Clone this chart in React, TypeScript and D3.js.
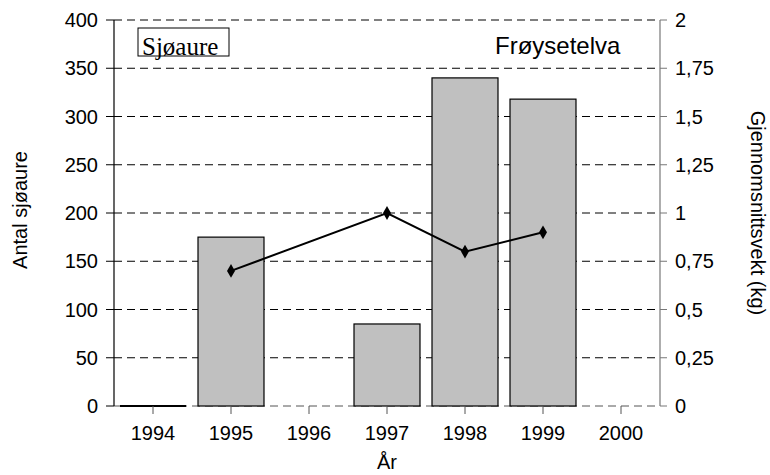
import React from "react";
import * as d3 from "d3";

const years = ["1994", "1995", "1996", "1997", "1998", "1999", "2000"];
const counts: (number | null)[] = [0, 175, null, 85, 340, 318, null];
const weights: (number | null)[] = [null, 0.7, null, 1.0, 0.8, 0.9, null];
const leftTicks = [0, 50, 100, 150, 200, 250, 300, 350, 400];
const rightTicks = [0, 0.25, 0.5, 0.75, 1, 1.25, 1.5, 1.75, 2];
const rightTickLabels = ["0", "0,25", "0,5", "0,75", "1", "1,25", "1,5", "1,75", "2"];

const W = 770, H = 475;
const L = 114, R = 660, T = 20, B = 406;
const sans = "'Liberation Sans', Arial, sans-serif";
const serif = "'Liberation Serif', 'Times New Roman', serif";

export default function App() {
  const x = d3.scaleBand<string>().domain(years).range([L, R]).paddingInner(0.154).paddingOuter(0.077);
  const xc = (y: string) => (x(y) as number) + x.bandwidth() / 2;
  const yL = d3.scaleLinear().domain([0, 400]).range([B, T]);
  const yR = d3.scaleLinear().domain([0, 2]).range([B, T]);
  const pts = years
    .map((y, i) => ({ y, v: weights[i] }))
    .filter((d) => d.v !== null) as { y: string; v: number }[];
  const line = d3.line<{ y: string; v: number }>().x((d) => xc(d.y)).y((d) => yR(d.v));
  const diamond = d3.symbol().type(d3.symbolDiamond).size(55)();
  const fs = 20;
  return (
    <svg width={W} height={H} style={{ position: "absolute", left: 0, top: 0, background: "#fff" }}>
      {/* gridlines */}
      {leftTicks.map((t) => (
        <line key={"g" + t} x1={L} x2={R} y1={yL(t)} y2={yL(t)} stroke={t === 0 ? "#555" : "#000"} strokeWidth={1} strokeDasharray="8,5" />
      ))}
      {/* bars */}
      {years.map((y, i) => {
        const v = counts[i];
        if (v === null) return null;
        if (v === 0)
          return <line key={"b" + y} x1={x(y)} x2={(x(y) as number) + x.bandwidth()} y1={yL(0)} y2={yL(0)} stroke="#000" strokeWidth={2} />;
        return (
          <rect key={"b" + y} x={x(y)} y={yL(v)} width={x.bandwidth()} height={B - yL(v)}
            fill="#c0c0c0" stroke="#000" strokeWidth={1.2} />
        );
      })}
      {/* axes */}
      <line x1={L} x2={L} y1={T} y2={B} stroke="#000" strokeWidth={1.2} />
      <line x1={R} x2={R} y1={T} y2={B} stroke="#777" strokeWidth={1.2} />
      {leftTicks.map((t) => (
        <g key={"lt" + t}>
          <line x1={L - 8} x2={L} y1={yL(t)} y2={yL(t)} stroke="#000" />
          <text x={98} y={yL(t)} dy="0.35em" textAnchor="end" fontFamily={sans} fontSize={fs}>{t}</text>
        </g>
      ))}
      {rightTicks.map((t, i) => (
        <g key={"rt" + t}>
          <line x1={R} x2={R + 7} y1={yR(t)} y2={yR(t)} stroke="#777" />
          <text x={675} y={yR(t)} dy="0.35em" textAnchor="start" fontFamily={sans} fontSize={fs}>{rightTickLabels[i]}</text>
        </g>
      ))}
      {years.map((y) => (
        <g key={"xt" + y}>
          <line x1={xc(y)} x2={xc(y)} y1={B} y2={B + 8} stroke="#555" />
          <text x={xc(y)} y={440} textAnchor="middle" fontFamily={sans} fontSize={fs}>{y}</text>
        </g>
      ))}
      {/* line series */}
      <path d={line(pts) as string} fill="none" stroke="#000" strokeWidth={2} />
      {pts.map((d) => (
        <path key={"m" + d.y} d={diamond as string} transform={`translate(${xc(d.y)},${yR(d.v)})`} fill="#000" />
      ))}
      {/* annotations */}
      <rect x={138} y={28} width={91} height={28} fill="#fff" stroke="#000" strokeWidth={1} />
      <text x={142} y={55} fontFamily={serif} fontSize={25}>Sjøaure</text>
      <text x={495} y={54} fontFamily={sans} fontSize={24}>Frøysetelva</text>
      {/* titles */}
      <text transform={`translate(27,210) rotate(-90)`} textAnchor="middle" fontFamily={sans} fontSize={fs}>Antal sjøaure</text>
      <text transform={`translate(751,213) rotate(90)`} textAnchor="middle" fontFamily={sans} fontSize={fs}>Gjennomsnittsvekt (kg)</text>
      <text x={387} y={469} textAnchor="middle" fontFamily={sans} fontSize={fs}>År</text>
    </svg>
  );
}
